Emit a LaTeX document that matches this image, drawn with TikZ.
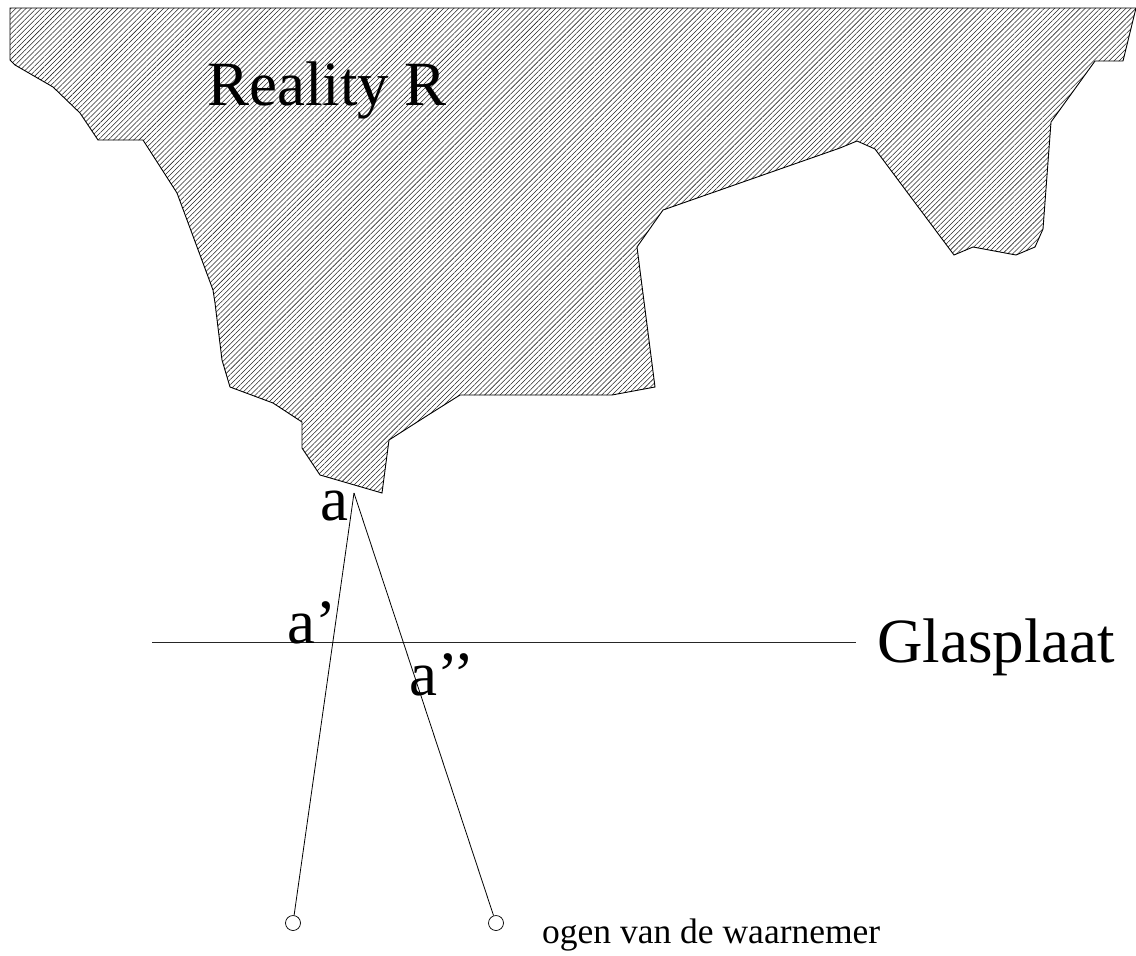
\documentclass[tikz,border=0pt]{standalone}
\usepackage{fontspec}
\setmainfont{Liberation Serif}
\usetikzlibrary{patterns.meta}
\begin{document}
\begin{tikzpicture}[x=1pt,y=-1pt,
  bigtxt/.style={anchor=base west,inner sep=0pt,font=\fontsize{63}{70}\selectfont},
  smalltxt/.style={anchor=base west,inner sep=0pt,font=\fontsize{35.5}{42}\selectfont},
  eye/.style={circle,draw,line width=0.7pt,minimum size=15pt,inner sep=0pt},
  ray/.style={line width=0.8pt},
  region/.style={draw,line width=0.9pt,pattern={Lines[angle=45,distance=3.6pt,line width=0.55pt]},pattern color=black!85}]
\useasboundingbox (0,0) rectangle (1136,956);
% Reality region
\path[region] (10,8) -- (1136,8) -- (1123,61) -- (1095,61) -- (1051,122) -- (1043,229)
  -- (1035,247) -- (1016,255) -- (973,247) -- (954,255) -- (875,149) -- (857,141)
  -- (840,148) -- (663,210) -- (637,247) -- (655,387) -- (612,395) -- (460,395)
  -- (425,417) -- (389,440) -- (382,493) -- (320,475) -- (302,448) -- (302,422)
  -- (273,403) -- (230,387) -- (222,360) -- (215,303) -- (213,290) -- (177,193)
  -- (143,140) -- (98,140) -- (80,113) -- (53,87) -- (15,65) -- (10,60) -- cycle;
\node[bigtxt] (reality) at (207,105) {Reality R};
% glass plate
\coordinate (gl) at (152,642);
\coordinate (gr) at (856,642);
\draw[line width=0.9pt,black!85] (gl) -- (gr);
\node[bigtxt] (glas) at (877,662) {Glasplaat};
% point a and rays
\coordinate (tip) at (354,493);
\node[eye] (eyeL) at (293,923) {};
\node[eye] (eyeR) at (496,923) {};
\draw[ray] (tip) -- (eyeL);
\draw[ray] (tip) -- (eyeR);
\node[bigtxt] (la) at (320,520) {a};
\node[bigtxt] (la1) at (287,643) {a’};
\node[bigtxt] (la2) at (409,695) {a’’};
\node[smalltxt] (ogen) at (542,943) {ogen van de waarnemer};
\end{tikzpicture}
\end{document}
